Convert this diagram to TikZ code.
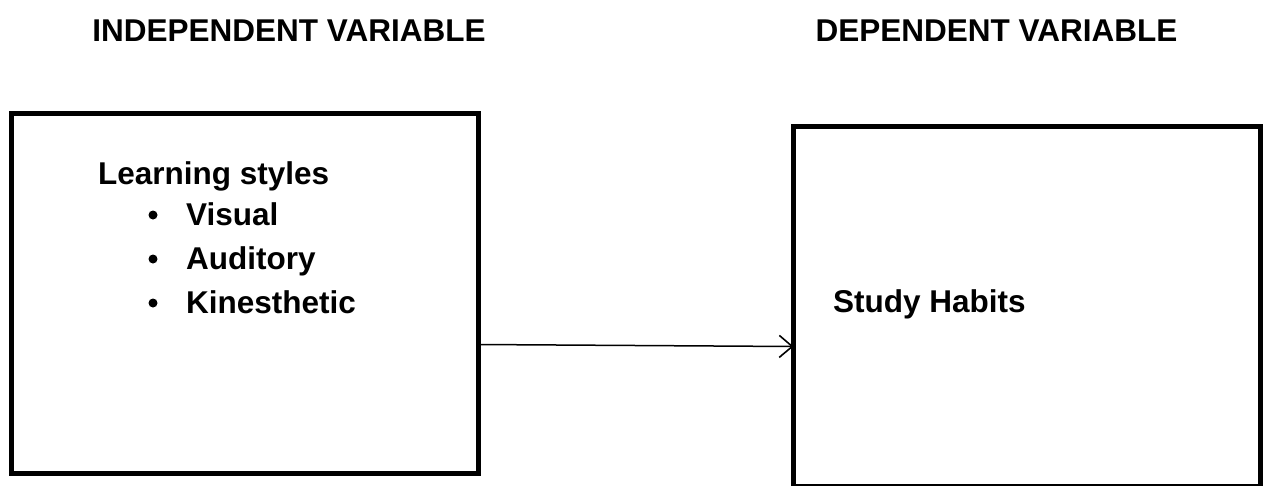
\documentclass[tikz,border=0pt]{standalone}
\usepackage{fontspec}
\setmainfont{Liberation Sans}
\usetikzlibrary{arrows.meta}
\begin{document}
\begin{tikzpicture}[x=1pt,y=-1pt,
  box/.style={draw=black,line width=5pt,rectangle,outer sep=0pt,inner sep=0pt},
  lbl/.style={font=\fontsize{31.5}{36}\selectfont\bfseries,inner sep=0pt,anchor=base west},
  head/.style={font=\fontsize{31.5}{36}\selectfont\bfseries,inner sep=0pt,anchor=base},
  dot/.style={circle,fill=black,inner sep=0pt,minimum size=9pt},
  conn/.style={line width=1.5pt,-{Straight Barb[length=13pt,width=22pt,line width=1.6pt]}}]
\useasboundingbox (0,0) rectangle (1265,485);
\fill[white] (0,0) rectangle (1265,485);
\node[head] (h1) at (289,41) {INDEPENDENT VARIABLE};
\node[head] (h2) at (996.5,41) {DEPENDENT VARIABLE};
\node[box,minimum width=467.5pt,minimum height=359.5pt] (L) at (244.75,293.25) {};
\node[box,minimum width=466.5pt,minimum height=360pt] (R) at (1026.75,306.5) {};
\node[lbl] (t0) at (98,184) {Learning styles};
\node[lbl] (t1) at (186,225) {Visual};
\node[lbl] (t2) at (186,269) {Auditory};
\node[lbl] (t3) at (186,313) {Kinesthetic};
\node[dot] (b1) at (153,215) {};
\node[dot] (b2) at (153,259) {};
\node[dot] (b3) at (153,303) {};
\node[lbl] (s) at (833,312) {Study Habits};
\coordinate (a1) at (L.east |- 0,344.5);
\coordinate (a2) at (R.west |- 0,346.5);
\draw[conn] (a1) -- (a2);
\end{tikzpicture}
\end{document}
